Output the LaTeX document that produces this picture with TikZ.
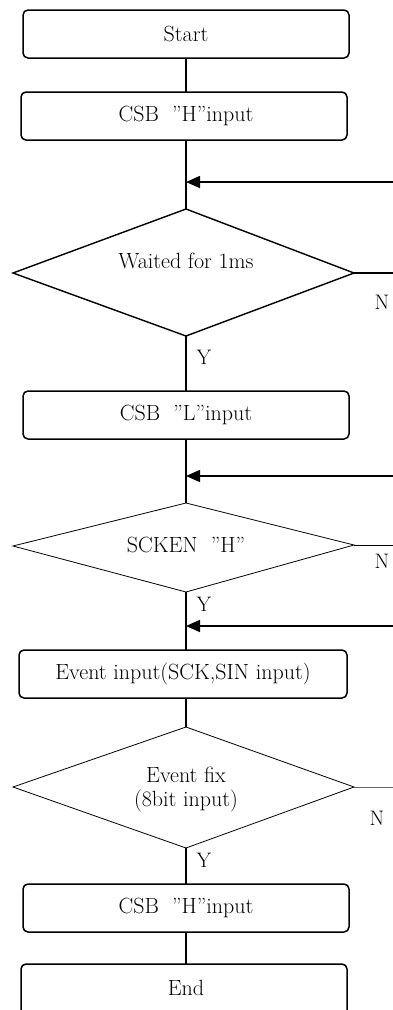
\documentclass[tikz,border=0pt]{standalone}
\usetikzlibrary{shapes.geometric,arrows.meta}
\begin{document}
\begin{tikzpicture}[x=1pt,y=-1pt,
  every node/.style={font=\fontsize{22}{25}\selectfont},
  procbox/.style={draw,line width=1.5pt,rounded corners=5pt,inner sep=0pt},
  decthick/.style={draw,line width=1.4pt},
  decthin/.style={draw,line width=0.8pt},
  flow/.style={line width=1.4pt},
  backarrow/.style={line width=1.6pt,-{Triangle[length=14pt,width=12pt]}},
  lbl/.style={inner sep=0pt,font=\fontsize{21}{24}\selectfont}]
\useasboundingbox (0,0) rectangle (393,1010);
% boxes
\draw[procbox] (23,10) rectangle (349,58);
\node (start) at (186,34) {Start};
\coordinate (startb) at (186,58);
\draw[procbox] (21,92) rectangle (347,140);
\node (csbh) at (186,116) {CSB\hspace{0.6em}”H”input};
\coordinate (csbht) at (186,92);
\coordinate (csbhb) at (186,140);
\draw[procbox] (23,391) rectangle (349,439);
\node (csbl) at (186,415) {CSB\hspace{0.6em}”L”input};
\coordinate (csblt) at (186,391);
\coordinate (csblb) at (186,439);
\draw[procbox] (19,650) rectangle (347,698);
\node (ev) at (183,674) {Event input(SCK,SIN input)};
\coordinate (evt) at (186,650);
\coordinate (evb) at (186,698);
\draw[procbox] (23,884) rectangle (349,932);
\node (csbh2) at (186,908) {CSB\hspace{0.6em}”H”input};
\coordinate (csbh2t) at (186,884);
\coordinate (csbh2b) at (186,932);
\draw[procbox] (21,964) rectangle (347,1016);
\node (endn) at (186,988) {End};
\coordinate (endt) at (186,964);
% diamonds
\coordinate (d1t) at (186,209); \coordinate (d1l) at (13,273);
\coordinate (d1r) at (354,273); \coordinate (d1b) at (186,336);
\draw[decthick] (d1t) -- (d1r) -- (d1b) -- (d1l) -- cycle;
\node (d1) at (186,261) {Waited for 1ms};
\coordinate (d2t) at (186,503); \coordinate (d2l) at (13,546);
\coordinate (d2r) at (354,545); \coordinate (d2b) at (186,592);
\draw[decthin] (d2t) -- (d2r) -- (d2b) -- (d2l) -- cycle;
\node (d2) at (186,545) {SCKEN\hspace{0.6em}”H”};
\coordinate (d3t) at (186,727); \coordinate (d3l) at (13,787);
\coordinate (d3r) at (354,787); \coordinate (d3b) at (186,848);
\draw[decthin] (d3t) -- (d3r) -- (d3b) -- (d3l) -- cycle;
\node[align=center] (d3) at (186,790) {Event fix\\[-1pt](8bit input)};
% flow lines
\draw[flow] (startb) -- (csbht);
\draw[flow] (csbhb) -- (d1t);
\draw[flow] (d1b) -- (csblt);
\draw[flow] (csblb) -- (d2t);
\draw[flow] (d2b) -- (evt);
\draw[flow] (evb) -- (d3t);
\draw[flow] (d3b) -- (csbh2t);
\draw[flow] (csbh2b) -- (endt);
% back arrows
\coordinate (a1s) at (395,182); \coordinate (a1e) at (186,182);
\draw[backarrow] (a1s) -- (a1e);
\coordinate (a2s) at (395,476); \coordinate (a2e) at (186,476);
\draw[backarrow] (a2s) -- (a2e);
\coordinate (a3s) at (395,626); \coordinate (a3e) at (186,626);
\draw[backarrow] (a3s) -- (a3e);
% N exits
\coordinate (n1) at (395,273);
\draw[line width=1.4pt] (d1r) -- (n1);
\coordinate (n2) at (395,545);
\draw[line width=0.8pt] (d2r) -- (n2);
\coordinate (n3) at (395,787);
\draw[line width=1pt,black!60] (d3r) -- (n3);
% labels
\node[lbl] (nl1) at (382,302) {N};
\node[lbl] (nl2) at (382,561) {N};
\node[lbl] (nl3) at (377,818) {N};
\node[lbl] (yl1) at (204,357) {Y};
\node[lbl] (yl2) at (204,604) {Y};
\node[lbl] (yl3) at (204,860) {Y};
\end{tikzpicture}
\end{document}
